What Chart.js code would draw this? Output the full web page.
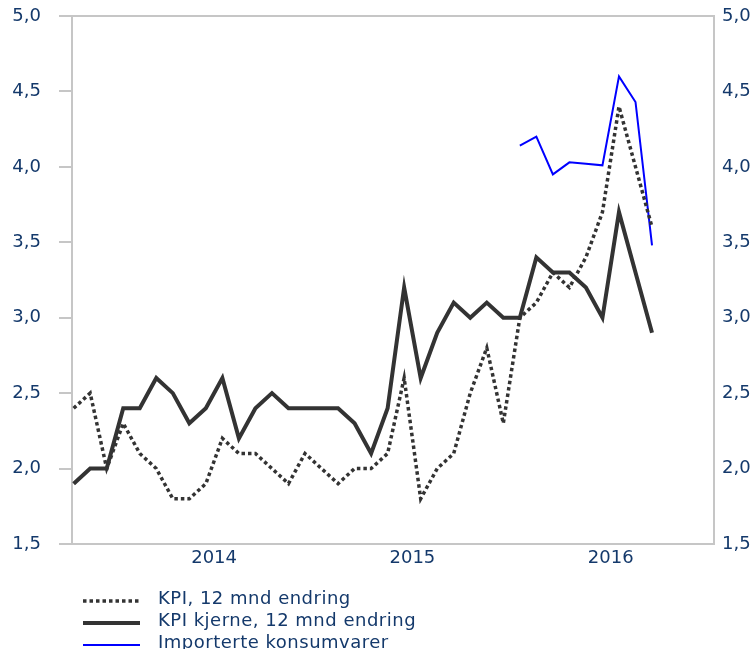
<!DOCTYPE html>
<html>
<head>
<meta charset="utf-8">
<script src="https://cdn.jsdelivr.net/npm/chart.js@4.4.1/dist/chart.umd.min.js"></script>
<style>
  body { margin: 0; background: #fff; }
  #wrap { position: relative; width: 755px; height: 649px; overflow: hidden; }
  #legend {
    position: absolute; left: 83px; top: 587px;
    font-family: "DejaVu Sans", sans-serif; font-size: 18px; letter-spacing: 0.5px; color: #14396b;
  }
  .row { height: 22px; line-height: 22px; display: flex; align-items: center; white-space: nowrap; }
  .row svg { width: 57px; height: 22px; margin-right: 18px; flex: none; }
</style>
</head>
<body>
<div id="wrap">
  <canvas id="chart" width="755" height="649"></canvas>
  <div id="legend"></div>
</div>
<script>
// måneder okt 2013 - sep 2016
const months = [
  "okt 13", "nov 13", "des 13",
  "jan 14", "feb 14", "mar 14", "apr 14", "mai 14", "jun 14", "jul 14", "aug 14", "sep 14", "okt 14", "nov 14", "des 14",
  "jan 15", "feb 15", "mar 15", "apr 15", "mai 15", "jun 15", "jul 15", "aug 15", "sep 15", "okt 15", "nov 15", "des 15",
  "jan 16", "feb 16", "mar 16", "apr 16", "mai 16", "jun 16", "jul 16", "aug 16", "sep 16"
];

// KPI, 12 mnd endring
const kpi = [
  2.4, 2.5, 2.0,
  2.3, 2.1, 2.0, 1.8, 1.8, 1.9, 2.2, 2.1, 2.1, 2.0, 1.9, 2.1,
  2.0, 1.9, 2.0, 2.0, 2.1, 2.6, 1.8, 2.0, 2.1, 2.5, 2.8, 2.3,
  3.0, 3.1, 3.3, 3.2, 3.4, 3.7, 4.4, 4.0, 3.6
];

// KPI kjerne (KPI-JAE), 12 mnd endring
const kpiKjerne = [
  1.9, 2.0, 2.0,
  2.4, 2.4, 2.6, 2.5, 2.3, 2.4, 2.6, 2.2, 2.4, 2.5, 2.4, 2.4,
  2.4, 2.4, 2.3, 2.1, 2.4, 3.2, 2.6, 2.9, 3.1, 3.0, 3.1, 3.0,
  3.0, 3.4, 3.3, 3.3, 3.2, 3.0, 3.7, 3.3, 2.9
];

// Importerte konsumvarer (fra jan 2016)
const importerte = [
  null, null, null,
  null, null, null, null, null, null, null, null, null, null, null, null,
  null, null, null, null, null, null, null, null, null, null, null, null,
  4.14, 4.20, 3.95, 4.03, 4.02, 4.01, 4.60, 4.43, 3.48
];

// årstall midt i hvert år
const yearLabels = ["2014", "2015", "2016"];
const yearPos = yearLabels.map((y) => months.indexOf("jan " + y.slice(2)) + 5.5);

const yTicks = [1.5, 2.0, 2.5, 3.0, 3.5, 4.0, 4.5, 5.0];

const navy = "#14396b";
const grey = "#c6c6c6";
const tickFont = { family: "DejaVu Sans", size: 18 };

function toPoints(arr) {
  return arr.map((v, i) => ({ x: i, y: v }));
}

function fmt(v) {
  return v.toFixed(1).replace(".", ",");
}

const datasets = [
  {
    label: "KPI, 12 mnd endring",
    data: toPoints(kpi),
    borderColor: "#333333",
    borderWidth: 3.5,
    borderDash: [3.5, 3],
    yAxisID: "y",
  },
  {
    label: "KPI kjerne, 12 mnd endring",
    data: toPoints(kpiKjerne),
    borderColor: "#333333",
    borderWidth: 4,
    yAxisID: "y",
  },
  {
    label: "Importerte konsumvarer",
    data: toPoints(importerte),
    borderColor: "#0000ff",
    borderWidth: 2,
    yAxisID: "y",
  },
];

// ramme øverst
const topFrame = {
  id: "topFrame",
  afterDraw(chart) {
    const { ctx, chartArea } = chart;
    ctx.save();
    ctx.strokeStyle = grey;
    ctx.lineWidth = 2;
    ctx.beginPath();
    ctx.moveTo(chartArea.left, chartArea.top);
    ctx.lineTo(chartArea.right, chartArea.top);
    ctx.stroke();
    ctx.restore();
  },
};

function fixWidth(w) {
  return (scale) => {
    scale.width = w;
    scale.paddingTop = 0;
    scale.paddingBottom = 0;
  };
}

const ctx = document.getElementById("chart").getContext("2d");
new Chart(ctx, {
  type: "line",
  data: { datasets: datasets },
  plugins: [topFrame],
  options: {
    responsive: false,
    animation: false,
    layout: { padding: { top: 16, bottom: 75, left: 0, right: 0 } },
    elements: { point: { radius: 0 }, line: { tension: 0 } },
    plugins: { legend: { display: false }, tooltip: { enabled: false } },
    scales: {
      x: {
        type: "linear",
        min: -0.1,
        max: 38.75,
        afterBuildTicks: (scale) => {
          scale.ticks = yearPos.map((v) => ({ value: v }));
        },
        afterFit: (scale) => {
          scale.height = 30;
          scale.paddingLeft = 0;
          scale.paddingRight = 0;
        },
        ticks: {
          autoSkip: false,
          maxRotation: 0,
          padding: 4,
          color: navy,
          font: tickFont,
          callback: (v) => yearLabels[yearPos.indexOf(v)],
        },
        grid: { drawOnChartArea: false, drawTicks: false, color: grey, lineWidth: 2 },
        border: { color: grey, width: 2 },
      },
      y: {
        position: "left",
        min: 1.5,
        max: 5.0,
        afterBuildTicks: (scale) => {
          scale.ticks = yTicks.map((v) => ({ value: v }));
        },
        afterFit: fixWidth(72),
        ticks: { padding: 18, color: navy, font: tickFont, callback: fmt },
        grid: { drawOnChartArea: false, drawTicks: true, tickLength: 13, color: grey, lineWidth: 2 },
        border: { color: grey, width: 2 },
      },
      y2: {
        position: "right",
        min: 1.5,
        max: 5.0,
        afterBuildTicks: (scale) => {
          scale.ticks = yTicks.map((v) => ({ value: v }));
        },
        afterFit: fixWidth(41),
        ticks: { padding: 8, color: navy, font: tickFont, callback: fmt },
        grid: { drawOnChartArea: false, drawTicks: false, color: grey, lineWidth: 2 },
        border: { color: grey, width: 2 },
      },
    },
  },
});

// legende
const legend = document.getElementById("legend");
datasets.forEach((ds) => {
  const row = document.createElement("div");
  row.className = "row";
  const dash = ds.borderDash ? ds.borderDash.join(",") : "none";
  row.innerHTML =
    `<svg viewBox="0 0 57 22"><line x1="0" y1="14" x2="57" y2="14" stroke="${ds.borderColor}" ` +
    `stroke-width="${ds.borderWidth}" stroke-dasharray="${dash}"/></svg><span>${ds.label}</span>`;
  legend.appendChild(row);
});
</script>
</body>
</html>
